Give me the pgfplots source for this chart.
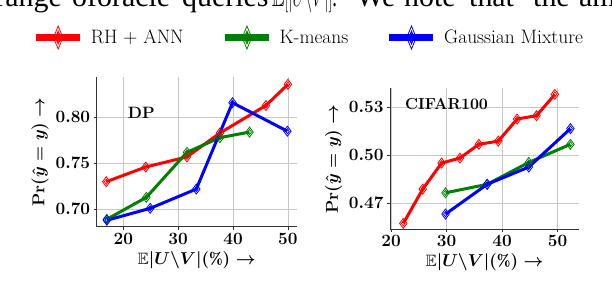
\documentclass[border=0pt]{standalone}
\usepackage{pgfplots}
\pgfplotsset{compat=1.18}
\usepackage{pgfplotstable}
\usepackage{graphicx}
\usepackage{amssymb}
\usepackage{bm}
\usepackage{fontspec}
\newfontfamily\timesfont{Liberation Serif}

\pgfplotstableread{
x y
16.9 0.730
24.1 0.746
31.6 0.757
37.6 0.783
46.0 0.813
50.0 0.836
}\dpred
\pgfplotstableread{
x y
17.0 0.689
24.2 0.713
31.6 0.762
37.6 0.778
43.0 0.784
}\dpgreen
\pgfplotstableread{
x y
17.0 0.688
24.9 0.701
33.3 0.722
39.9 0.816
49.9 0.785
}\dpblue
\pgfplotstableread{
x y
22.2 0.4575
25.7 0.4789
29.1 0.4952
32.4 0.4983
35.8 0.5069
39.3 0.5089
42.7 0.5227
46.2 0.5248
49.5 0.5381
}\cred
\pgfplotstableread{
x y
29.8 0.4766
37.3 0.4819
44.8 0.4956
52.3 0.5069
}\cgreen
\pgfplotstableread{
x y
29.8 0.4633
37.3 0.4819
44.8 0.4927
52.3 0.5167
}\cblue

\pgfplotsset{
  myax/.style={
    scale only axis,
    axis lines*=left,
    axis line style={black!80, line width=0.8bp},
    grid=major,
    grid style={black!22, line width=0.8bp},
    tick align=outside,
    major tick length=3bp,
    tick style={black!80, line width=0.8bp},
    tick label style={font=\fontsize{16.5}{19}\selectfont\boldmath},
    label style={font=\fontsize{16.5}{19}\selectfont\boldmath},
    xtick={20,30,40,50},
    yticklabel style={/pgf/number format/.cd, fixed, fixed zerofill, precision=2},
    xlabel={$\mathbb{E}|\bm{U}\backslash\bm{V}|(\%)\rightarrow$},
    ylabel={$\mathbf{Pr}(\hat{y} = y)\rightarrow$},
    clip=false,
  },
  ser/.style={color=#1, line width=3bp, mark=diamond, mark size=5bp,
    mark options={solid, fill=white, draw=#1, line width=0.8bp}},
  inner/.style={color=#1, only marks, mark=diamond, mark size=2.6bp,
    mark options={solid, fill=white, draw=#1, line width=0.7bp}, forget plot},
}

\begin{document}
\begin{tikzpicture}
\useasboundingbox (0bp,0bp) rectangle (612bp,-302bp);

\begin{scope}[every node/.style={inner sep=0, font=\timesfont\fontsize{30}{36}\selectfont}]
\node[anchor=base east] at (62bp,-6bp) {range};
\node[anchor=base west] at (72bp,-6bp) {of};
\node[anchor=base west] at (97bp,-6bp) {oracle};
\node[anchor=base west] at (182bp,-6bp) {queries};
\node[anchor=base west] at (272bp,-6bp) {\scalebox{0.62}[1]{$\mathbb{E}[|U\backslash V|]$.}};
\node[anchor=base west] at (356bp,-6bp) {We};
\node[anchor=base west] at (404bp,-6bp) {note};
\node[anchor=base west] at (469bp,-6bp) {that};
\node[anchor=base west] at (533bp,-6bp) {the};
\node[anchor=base west] at (579bp,-6bp) {amount};
\node[anchor=north west] at (96.7bp,-302.5bp) {Figure 4: Accuracy};
\end{scope}

\begin{axis}[myax,
  at={(96.7bp,-226.7bp)}, anchor=south west,
  width=200bp, height=149.7bp,
  xmin=15.15, xmax=51.6, ymin=0.681, ymax=0.844,
  ytick={0.70,0.75,0.80},
  legend columns=3,
  legend style={draw=none, fill=none, at={(1.0615,1.2635)}, anchor=center,
    font=\fontsize{19.5}{23}\selectfont, inner sep=0pt,
    /tikz/every odd column/.append style={column sep=5.5bp},
    /tikz/every even column/.append style={column sep=36bp}},
  legend image post style={line width=6.5bp},
  legend image code/.code={
    \draw[mark repeat=2,mark phase=2] plot coordinates {(0bp,0bp) (22bp,0bp) (44bp,0bp)};
    \draw[every mark/.append style={xscale=0.55}, mark size=11.5bp] plot[only marks] coordinates {(22bp,0bp)};
    \draw[every mark/.append style={xscale=0.55}, mark size=6.5bp] plot[only marks] coordinates {(22bp,0bp)};
  },
]
\addplot[ser=red] table {\dpred};
\addlegendentry{RH + ANN}
\addplot[ser=green!50!black] table {\dpgreen};
\addlegendentry{K-means}
\addplot[ser=blue] table {\dpblue};
\addlegendentry{Gaussian Mixture}
\addplot[inner=red] table {\dpred};
\addplot[inner=green!50!black] table {\dpgreen};
\addplot[inner=blue] table {\dpblue};
\node[anchor=west, font=\fontsize{16.5}{19}\selectfont\bfseries] at (axis cs:20.2,0.805) {DP};
\end{axis}

\begin{axis}[myax,
  at={(390bp,-229.3bp)}, anchor=south west,
  width=189.3bp, height=141bp,
  xmin=19.8, xmax=53.9, ymin=0.4538, ymax=0.5419,
  ytick={0.47,0.50,0.53},
]
\addplot[ser=red] table {\cred};
\addplot[ser=green!50!black] table {\cgreen};
\addplot[ser=blue] table {\cblue};
\addplot[inner=red] table {\cred};
\addplot[inner=green!50!black] table {\cgreen};
\addplot[inner=blue] table {\cblue};
\node[anchor=west, font=\fontsize{16}{19}\selectfont\bfseries] at (axis cs:21.9,0.5319) {CIFAR100};
\end{axis}
\end{tikzpicture}
\end{document}
